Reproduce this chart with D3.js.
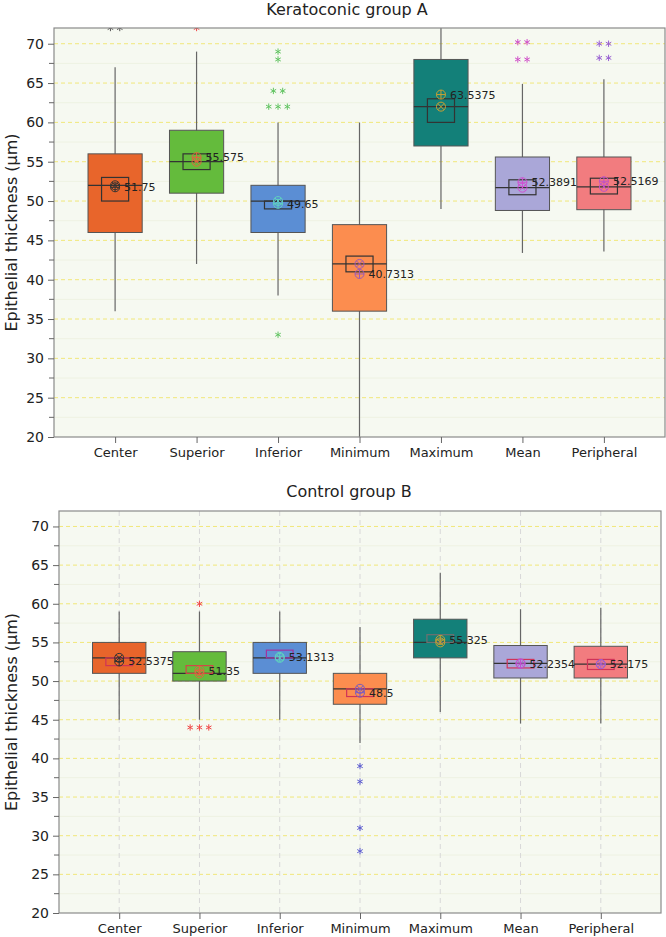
<!DOCTYPE html>
<html lang="en">
<head>
  <meta charset="UTF-8" />
  <title>Epithelial thickness box plots</title>
  <script src="https://d3js.org/d3.v7.min.js"></script>
  <style>
    body {
      margin: 0;
      background: #fff;
      font-family: 'DejaVu Sans', Verdana, sans-serif;
    }
    svg text { fill: #222; }
  </style>
</head>
<body>
  <svg id="chart" width="666" height="937"></svg>

  <script>
    const categories = ["Center", "Superior", "Inferior", "Minimum", "Maximum", "Mean", "Peripheral"];
    const yTicks = [20, 25, 30, 35, 40, 45, 50, 55, 60, 65, 70];

    // Keratoconic group A
    const aQ1 = [46, 51, 46, 36, 57, 48.8, 48.9];
    const aQ3 = [56, 59, 52, 47, 68, 55.6, 55.6];
    const aMedian = [52, 55, 50, 42, 62, 51.7, 51.8];
    const aWhiskLo = [36, 42, 38, 18, 49, 43.4, 43.6];
    const aWhiskHi = [67, 69, 60, 60, 76, 64.9, 65.5];
    const aCiLo = [50, 54, 49, 41, 60, 50.8, 50.9];
    const aCiHi = [53, 56, 50, 43, 63, 52.7, 52.9];
    const aMean = [51.75, 55.575, 49.65, 40.7313, 63.5375, 52.3891, 52.5169];
    const aMeanLabels = ["51.75", "55.575", "49.65", "40.7313", "63.5375", "52.3891", "52.5169"];
    const aOutliers = [[72, 72], [72], [69, 68, 64, 64, 62, 62, 62, 33], [], [], [70.2, 70.2, 68, 68], [70, 70, 68.2, 68.2]];

    // Control group B
    const bQ1 = [51, 50, 51, 47, 53, 50.4, 50.4];
    const bQ3 = [55, 53.8, 55, 51, 58, 54.6, 54.5];
    const bMedian = [53, 51, 53, 49, 55, 52.3, 52.2];
    const bWhiskLo = [45, 45, 45, 42, 46, 44.5, 44.5];
    const bWhiskHi = [59, 59, 59, 57, 64, 59.3, 59.5];
    const bCiLo = [52, 51, 53, 48, 55, 51.7, 51.5];
    const bCiHi = [53, 52, 54, 49, 56, 52.8, 52.8];
    const bMean = [52.5375, 51.35, 53.1313, 48.5, 55.325, 52.2354, 52.175];
    const bMeanLabels = ["52.5375", "51.35", "53.1313", "48.5", "55.325", "52.2354", "52.175"];
    const bOutliers = [[], [60, 44, 44, 44], [], [39, 37, 31, 28], [], [], []];

    const boxColors = ["#e8652b", "#64bb3c", "#5b8ed4", "#fc8d4f", "#138079", "#aaa7d8", "#f27c7f"];
    const markerColorsA = ["#333", "#e0653f", "#5fd0c0", "#9a5ab8", "#c9a033", "#d04fd0", "#c052c8"];
    const markerColorsB = ["#333", "#e0653f", "#5fd0c0", "#7a5cc0", "#c9a033", "#c050d0", "#a060d0"];
    const outlierColorsA = ["#555", "#f04848", "#62c462", "#999", "#999", "#d050c8", "#9a62d2"];
    const outlierColorsB = ["#555", "#f04848", "#62c462", "#5a5ad0", "#999", "#d050c8", "#9a62d2"];
    const ciColorsA = ["#333", "#333", "#333", "#333", "#333", "#333", "#333"];
    const ciColorsB = ["#d03358", "#d04848", "#a034a0", "#d03358", "#707070", "#d03358", "#d03358"];

    const svg = d3.select("#chart");

    function drawPanel(p) {
      const x = d3.scalePoint().domain(categories).range([p.left, p.right]).padding(0.75);
      const y = d3.scaleLinear().domain([20, 72]).range([p.bottom, p.top]);
      const step = x.step();
      const bw = step * 0.665;
      const cw = bw * 0.5;

      const g = svg.append("g");
      const clipId = "clip" + p.id;
      svg.append("clipPath").attr("id", clipId)
        .append("rect").attr("x", p.left).attr("y", p.top)
        .attr("width", p.right - p.left).attr("height", p.bottom - p.top);

      g.append("rect")
        .attr("x", p.left).attr("y", p.top)
        .attr("width", p.right - p.left).attr("height", p.bottom - p.top)
        .attr("fill", "#f6f9f1");

      // minor grid
      g.selectAll(".minor").data(d3.range(22.5, 72, 5)).join("line")
        .attr("x1", p.left).attr("x2", p.right)
        .attr("y1", d => y(d)).attr("y2", d => y(d))
        .attr("stroke", "#eef2e2").attr("stroke-width", 1);

      // major grid
      g.selectAll(".major").data(yTicks.slice(1)).join("line")
        .attr("x1", p.left).attr("x2", p.right)
        .attr("y1", d => y(d)).attr("y2", d => y(d))
        .attr("stroke", "#f1e77a").attr("stroke-width", 1)
        .attr("stroke-dasharray", "4,3");

      if (p.vgrid) {
        g.selectAll(".vgrid").data(categories).join("line")
          .attr("x1", d => x(d)).attr("x2", d => x(d))
          .attr("y1", p.top).attr("y2", p.bottom)
          .attr("stroke", "#d8d8d8").attr("stroke-dasharray", "5,4");
      }

      const data = categories.map((c, i) => ({
        c, i, q1: p.q1[i], q3: p.q3[i], med: p.median[i], lo: p.whiskLo[i], hi: p.whiskHi[i],
        ciLo: p.ciLo[i], ciHi: p.ciHi[i], mean: p.mean[i], label: p.meanLabels[i], out: p.outliers[i]
      }));

      const plot = g.append("g").attr("clip-path", `url(#${clipId})`);

      // whiskers
      plot.selectAll(".whisk").data(data).join("line")
        .attr("x1", d => x(d.c)).attr("x2", d => x(d.c))
        .attr("y1", d => y(d.lo)).attr("y2", d => y(d.hi))
        .attr("stroke", "#666").attr("stroke-width", 1.2);

      // boxes
      plot.selectAll(".box").data(data).join("rect")
        .attr("x", d => x(d.c) - bw / 2).attr("width", bw)
        .attr("y", d => y(d.q3)).attr("height", d => y(d.q1) - y(d.q3))
        .attr("fill", (d, i) => boxColors[i])
        .attr("stroke", "#555").attr("stroke-width", 1);

      // median
      plot.selectAll(".med").data(data).join("line")
        .attr("x1", d => x(d.c) - bw / 2).attr("x2", d => x(d.c) + bw / 2)
        .attr("y1", d => y(d.med)).attr("y2", d => y(d.med))
        .attr("stroke", "#333").attr("stroke-width", 1.2);

      // inner interval box
      plot.selectAll(".ci").data(data).join("rect")
        .attr("x", d => x(d.c) - cw / 2).attr("width", cw)
        .attr("y", d => y(d.ciHi)).attr("height", d => y(d.ciLo) - y(d.ciHi))
        .attr("fill", "none")
        .attr("stroke", (d, i) => p.ciColors[i]).attr("stroke-width", 1.2);

      // median marker (circle with x)
      const r = 4.5;
      const medM = plot.selectAll(".medm").data(data).join("g")
        .attr("transform", d => `translate(${x(d.c)},${y(d.med)})`)
        .attr("stroke", (d, i) => p.markerColors[i]).attr("fill", "none").attr("stroke-width", 1);
      medM.append("circle").attr("r", r);
      medM.append("path").attr("d", `M${-r * 0.7},${-r * 0.7}L${r * 0.7},${r * 0.7}M${-r * 0.7},${r * 0.7}L${r * 0.7},${-r * 0.7}`);

      // mean marker (circle with +)
      const meanM = plot.selectAll(".meanm").data(data).join("g")
        .attr("transform", d => `translate(${x(d.c)},${y(d.mean)})`)
        .attr("stroke", (d, i) => p.markerColors[i]).attr("fill", "none").attr("stroke-width", 1);
      meanM.append("circle").attr("r", r);
      meanM.append("path").attr("d", `M${-r},0L${r},0M0,${-r}L0,${r}`);

      // mean labels
      g.selectAll(".mlabel").data(data).join("text")
        .attr("x", d => x(d.c) + 9).attr("y", d => y(d.mean) + 4)
        .attr("font-size", 11).style("fill", "#222")
        .text(d => d.label);

      // outliers
      const pts = [];
      data.forEach(d => {
        const counts = d3.rollup(d.out, v => v.length, v => v);
        const seen = new Map();
        d.out.forEach(v => {
          const n = counts.get(v);
          const k = seen.get(v) || 0;
          seen.set(v, k + 1);
          pts.push({ c: d.c, i: d.i, v, dx: (k - (n - 1) / 2) * 9.3 });
        });
      });
      const star = d3.symbol().type(d3.symbolAsterisk).size(28);
      plot.selectAll(".out").data(pts).join("path")
        .attr("transform", d => `translate(${x(d.c) + d.dx},${y(d.v)})`)
        .attr("d", star)
        .attr("fill", "none")
        .attr("stroke", d => p.outlierColors[d.i]).attr("stroke-width", 1);

      // frame
      g.append("rect")
        .attr("x", p.left).attr("y", p.top)
        .attr("width", p.right - p.left).attr("height", p.bottom - p.top)
        .attr("fill", "none").attr("stroke", "#8a8a8a").attr("stroke-width", 1.2);

      // axes
      const yAxis = g.append("g").attr("transform", `translate(${p.left},0)`)
        .call(d3.axisLeft(y).tickValues(yTicks).tickSize(6).tickPadding(4));
      yAxis.select(".domain").remove();
      yAxis.selectAll(".tick line").attr("stroke", "#666");
      yAxis.selectAll("text").attr("font-size", 14).attr("font-family", "'DejaVu Sans', sans-serif").style("fill", "#222");
      g.append("g").attr("transform", `translate(${p.left},0)`)
        .selectAll("line").data(d3.range(22.5, 72, 5)).join("line")
        .attr("x1", -5).attr("x2", 0)
        .attr("y1", d => y(d)).attr("y2", d => y(d))
        .attr("stroke", "#666");

      const xAxis = g.append("g").attr("transform", `translate(0,${p.bottom})`)
        .call(d3.axisBottom(x).tickSize(6).tickPadding(5));
      xAxis.select(".domain").remove();
      xAxis.selectAll(".tick line").attr("stroke", "#666");
      xAxis.selectAll("text").attr("font-size", 13).attr("font-family", "'DejaVu Sans', sans-serif").style("fill", "#222");

      // title
      g.append("text")
        .attr("x", p.titleX).attr("y", p.titleY)
        .attr("text-anchor", "middle").attr("font-size", 16)
        .text(p.title);

      // y label
      g.append("text")
        .attr("transform", `translate(17,${(p.top + p.bottom) / 2}) rotate(-90)`)
        .attr("text-anchor", "middle").attr("font-size", 16)
        .text("Epithelial thickness (µm)");
    }

    drawPanel({
      id: "A", title: "Keratoconic group A", titleX: 347, titleY: 15,
      left: 54, right: 665, top: 28, bottom: 437, vgrid: false,
      q1: aQ1, q3: aQ3, median: aMedian, whiskLo: aWhiskLo, whiskHi: aWhiskHi,
      ciLo: aCiLo, ciHi: aCiHi, mean: aMean, meanLabels: aMeanLabels, outliers: aOutliers,
      markerColors: markerColorsA, outlierColors: outlierColorsA, ciColors: ciColorsA
    });

    drawPanel({
      id: "B", title: "Control group B", titleX: 349, titleY: 497,
      left: 59, right: 661, top: 511, bottom: 913, vgrid: true,
      q1: bQ1, q3: bQ3, median: bMedian, whiskLo: bWhiskLo, whiskHi: bWhiskHi,
      ciLo: bCiLo, ciHi: bCiHi, mean: bMean, meanLabels: bMeanLabels, outliers: bOutliers,
      markerColors: markerColorsB, outlierColors: outlierColorsB, ciColors: ciColorsB
    });
  </script>
</body>
</html>
